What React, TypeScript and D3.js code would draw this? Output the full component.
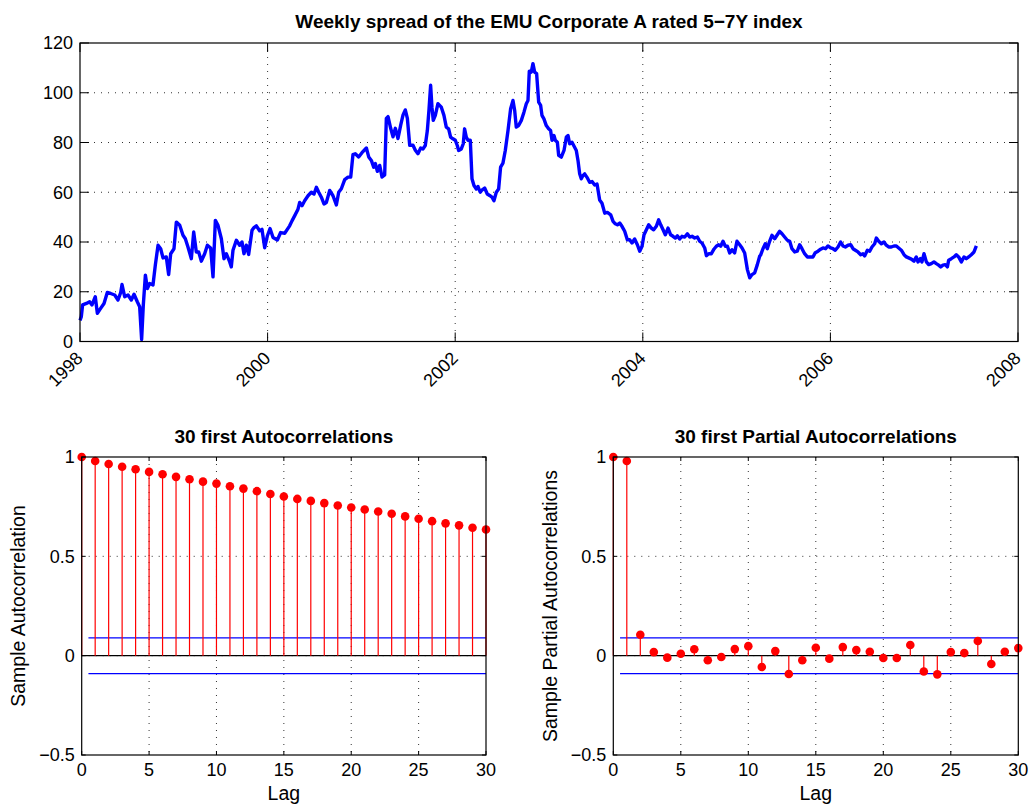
import React from "react";
import * as d3 from "d3";

// ---------- DATA ----------
const chartTitle = "Weekly spread of the EMU Corporate A rated 5\u22127Y index";
const acfTitle = "30 first Autocorrelations";
const pacfTitle = "30 first Partial Autocorrelations";

// [decimal year, spread (bp)]
const spreadSeries: [number, number][] = [
  [1998.0, 8.5], [1998.014, 10], [1998.028, 14.7], [1998.068, 15.3], [1998.103, 16], [1998.128, 14.7],
  [1998.163, 18], [1998.185, 11.3], [1998.22, 13.3], [1998.256, 15.3], [1998.291, 19.7], [1998.327, 19.3],
  [1998.37, 18.7], [1998.405, 16.7], [1998.434, 19.7], [1998.448, 22.9], [1998.476, 18], [1998.512, 18.7],
  [1998.547, 16.7], [1998.576, 19], [1998.611, 16], [1998.636, 14], [1998.657, 0.8], [1998.675, 14.7],
  [1998.697, 26.7], [1998.718, 21.3], [1998.743, 23.3], [1998.778, 22.7], [1998.803, 30.7], [1998.832, 38.7],
  [1998.86, 37.3], [1998.885, 33.6], [1998.92, 34], [1998.945, 26.9], [1998.967, 35.3], [1999.002, 37.3],
  [1999.027, 48], [1999.063, 46.7], [1999.098, 42.7], [1999.123, 41.3], [1999.151, 38], [1999.187, 33.3],
  [1999.212, 44], [1999.24, 36], [1999.265, 36], [1999.294, 32.3], [1999.329, 35.3], [1999.358, 38.7],
  [1999.393, 37.6], [1999.418, 26], [1999.443, 48.7], [1999.471, 46.7], [1999.507, 41.3], [1999.535, 33.3],
  [1999.56, 35.3], [1999.596, 32], [1999.613, 30], [1999.631, 36.7], [1999.667, 40.7], [1999.702, 38.7],
  [1999.727, 40], [1999.748, 35.3], [1999.773, 38.7], [1999.798, 35], [1999.834, 44.7], [1999.855, 45.8],
  [1999.88, 46.5], [1999.915, 44.5], [1999.94, 45.1], [1999.969, 37.7], [1999.997, 42.4], [2000.026, 45.4],
  [2000.058, 41.8], [2000.104, 40.8], [2000.139, 43.8], [2000.182, 43.5], [2000.21, 45.1], [2000.235, 46.5],
  [2000.26, 48.5], [2000.288, 50.5], [2000.324, 53.2], [2000.342, 55.9], [2000.367, 54.6], [2000.395, 56.6],
  [2000.431, 58.6], [2000.466, 60], [2000.495, 59.3], [2000.52, 62], [2000.545, 60], [2000.573, 58],
  [2000.601, 55.3], [2000.626, 55.9], [2000.662, 60.7], [2000.697, 58.6], [2000.733, 54.9], [2000.758, 60],
  [2000.786, 61.4], [2000.822, 65.1], [2000.857, 66.1], [2000.886, 66.1], [2000.91, 75.1], [2000.935, 75.5],
  [2000.971, 74.2], [2001.006, 75.9], [2001.053, 77.8], [2001.078, 74.2], [2001.106, 72.8], [2001.131, 70.1],
  [2001.149, 71.5], [2001.17, 68.4], [2001.195, 70.8], [2001.22, 66.1], [2001.248, 67], [2001.266, 89.7],
  [2001.284, 90.4], [2001.312, 85.7], [2001.337, 82.3], [2001.362, 85.7], [2001.39, 81.6], [2001.419, 87],
  [2001.444, 91.1], [2001.468, 93.1], [2001.49, 89.7], [2001.515, 78.9], [2001.55, 78.9], [2001.575, 76.9],
  [2001.603, 75.5], [2001.632, 77.8], [2001.656, 77.4], [2001.681, 78.8], [2001.703, 84.8], [2001.72, 92.9],
  [2001.738, 103], [2001.752, 94.2], [2001.766, 88.9], [2001.788, 90.9], [2001.816, 95.6], [2001.852, 94.2],
  [2001.88, 90.9], [2001.905, 86.2], [2001.93, 85.5], [2001.951, 82.2], [2001.976, 81.5], [2002.001, 80.9],
  [2002.022, 78.8], [2002.037, 76.8], [2002.065, 77.4], [2002.086, 79.5], [2002.1, 85.5], [2002.118, 82.2],
  [2002.136, 80.9], [2002.161, 80.9], [2002.179, 65.4], [2002.2, 62.7], [2002.225, 61.3], [2002.243, 62.3],
  [2002.267, 60], [2002.285, 60.9], [2002.314, 61.7], [2002.342, 59.3], [2002.367, 58.7], [2002.392, 58],
  [2002.413, 56.6], [2002.438, 60], [2002.463, 61.3], [2002.484, 70.1], [2002.509, 71.7], [2002.534, 76.8],
  [2002.563, 84.8], [2002.591, 93.6], [2002.616, 96.9], [2002.634, 92.9], [2002.651, 86.2], [2002.676, 86.8],
  [2002.705, 88.9], [2002.733, 92.2], [2002.758, 95.6], [2002.776, 96.9], [2002.79, 108.7], [2002.811, 108.3],
  [2002.829, 111.7], [2002.847, 108.3], [2002.868, 107.7], [2002.89, 96.2], [2002.911, 94.9], [2002.925, 90.9],
  [2002.946, 89.5], [2002.971, 86.8], [2002.996, 85.5], [2003.017, 84.8], [2003.032, 80.9], [2003.053, 82.8],
  [2003.067, 80.9], [2003.089, 80.1], [2003.103, 74.8], [2003.131, 74.1], [2003.16, 76.8], [2003.185, 82.2],
  [2003.203, 82.8], [2003.22, 79.5], [2003.245, 80.1], [2003.273, 78.1], [2003.291, 76.8], [2003.309, 72.8],
  [2003.327, 67.4], [2003.344, 65.4], [2003.362, 66.7], [2003.38, 67.4], [2003.405, 66], [2003.433, 64],
  [2003.459, 64.3], [2003.487, 62.9], [2003.512, 63.3], [2003.54, 56.9], [2003.565, 55.6], [2003.594, 51.6],
  [2003.622, 51.9], [2003.658, 50.9], [2003.683, 48.3], [2003.707, 47.3], [2003.729, 46.9], [2003.754, 47.6],
  [2003.778, 46.3], [2003.807, 44.3], [2003.835, 40.9], [2003.86, 40.9], [2003.885, 39.6], [2003.913, 41.2],
  [2003.942, 38.9], [2003.967, 36.3], [2003.992, 38.3], [2004.013, 42.9], [2004.038, 44.9], [2004.063, 46.9],
  [2004.091, 45.6], [2004.116, 44.9], [2004.144, 46.3], [2004.169, 48.9], [2004.191, 46.9], [2004.216, 44.9],
  [2004.24, 42.9], [2004.269, 45.6], [2004.297, 42.9], [2004.322, 42.3], [2004.347, 41.6], [2004.368, 42.5],
  [2004.393, 41.2], [2004.418, 42.3], [2004.447, 42], [2004.475, 43.3], [2004.5, 42], [2004.525, 42.3],
  [2004.553, 41.6], [2004.582, 42], [2004.606, 40.3], [2004.631, 39.6], [2004.66, 37.6], [2004.678, 34.5],
  [2004.703, 35.3], [2004.731, 35.3], [2004.76, 37.2], [2004.784, 38.3], [2004.809, 38.9], [2004.83, 38.3],
  [2004.855, 40.3], [2004.88, 38.3], [2004.902, 38.3], [2004.926, 35.6], [2004.951, 36.9], [2004.979, 35.6],
  [2005.004, 40.3], [2005.033, 38.9], [2005.058, 37.6], [2005.086, 35.6], [2005.115, 28.9], [2005.14, 25.6],
  [2005.164, 26.9], [2005.193, 27.6], [2005.221, 30.9], [2005.246, 34.3], [2005.256, 34.7], [2005.281, 37.3],
  [2005.306, 39.3], [2005.327, 37.3], [2005.352, 40.3], [2005.377, 42.7], [2005.406, 41.3], [2005.434, 42.9],
  [2005.459, 44.3], [2005.484, 43.3], [2005.512, 42], [2005.541, 40.7], [2005.566, 40.3], [2005.59, 37.3],
  [2005.619, 36], [2005.647, 36.3], [2005.672, 38.9], [2005.697, 37.3], [2005.725, 35.3], [2005.754, 34],
  [2005.789, 34], [2005.814, 34], [2005.839, 35.7], [2005.868, 36.3], [2005.896, 37.1], [2005.921, 37.6],
  [2005.949, 37.3], [2005.974, 38.4], [2006.003, 37.6], [2006.028, 37.3], [2006.052, 36.7], [2006.081, 38],
  [2006.109, 40], [2006.134, 38.4], [2006.159, 38], [2006.188, 38.7], [2006.216, 38.9], [2006.241, 37.3],
  [2006.266, 36.7], [2006.294, 36], [2006.323, 34.9], [2006.347, 35.3], [2006.365, 34.4], [2006.394, 36.7],
  [2006.419, 36.3], [2006.443, 38], [2006.472, 39.3], [2006.49, 41.6], [2006.515, 40.3], [2006.543, 39.3],
  [2006.571, 40], [2006.596, 38.7], [2006.621, 38], [2006.649, 38], [2006.678, 38.4], [2006.703, 38.4],
  [2006.728, 37.6], [2006.756, 36.7], [2006.785, 34.9], [2006.81, 34], [2006.834, 33.6], [2006.863, 33.1],
  [2006.891, 32.3], [2006.916, 34], [2006.934, 32], [2006.959, 33.3], [2006.976, 32], [2006.998, 35.3],
  [2007.023, 32], [2007.048, 30.9], [2007.076, 31.3], [2007.104, 32], [2007.129, 31.3], [2007.154, 30.7],
  [2007.176, 30], [2007.2, 30.7], [2007.225, 30.9], [2007.247, 30], [2007.261, 32.7], [2007.289, 33.3],
  [2007.318, 34], [2007.342, 34.9], [2007.367, 34], [2007.396, 32], [2007.424, 34], [2007.449, 33.3],
  [2007.474, 34], [2007.502, 34.9], [2007.531, 36], [2007.556, 38.4],
];

const yearTicks = [1998, 2000, 2002, 2004, 2006, 2008];
const spreadTicks = [0, 20, 40, 60, 80, 100, 120];

const acfValues = [
  1, 0.98, 0.965, 0.951, 0.938, 0.925, 0.913, 0.9, 0.888, 0.876, 0.866, 0.853, 0.841, 0.828, 0.814, 0.801,
  0.789, 0.779, 0.768, 0.756, 0.746, 0.736, 0.726, 0.714, 0.701, 0.689, 0.677, 0.666, 0.656, 0.644, 0.635,
];
const pacfValues = [
  1, 0.98, 0.105, 0.018, -0.01, 0.01, 0.032, -0.023, -0.007, 0.033, 0.048, -0.057, 0.023, -0.092, -0.023,
  0.04, -0.015, 0.043, 0.028, 0.02, -0.012, -0.012, 0.054, -0.08, -0.094, 0.018, 0.013, 0.074, -0.042, 0.02,
  0.038,
];
const confBound = 0.09;
const lagTicks = [0, 5, 10, 15, 20, 25, 30];
const corrTicks = [-0.5, 0, 0.5, 1];

// ---------- STYLE ----------
const FONT = "'Liberation Sans', Arial, Helvetica, sans-serif";
const GRID = { stroke: "#333", strokeWidth: 1, strokeDasharray: "1,6" };
const TICK = 9;
const TITLE_SIZE = 19;
const TICK_SIZE = 18;
const LABEL_SIZE = 19.5;

function fmtCorr(v: number) {
  if (v === 0) return "0";
  return (v < 0 ? "\u2212" : "") + String(Math.abs(v));
}

function TopChart() {
  const L = 80, R = 1018, T = 43, B = 341.5;
  const x = d3.scaleLinear().domain([1998, 2008]).range([L, R]);
  const y = d3.scaleLinear().domain([0, 120]).range([B, T]);
  const line = d3
    .line<[number, number]>()
    .x((d) => x(d[0]))
    .y((d) => y(d[1]));
  return (
    <g>
      <text x={(L + R) / 2} y={28} textAnchor="middle" fontWeight="bold" fontSize={TITLE_SIZE} fontFamily={FONT}>
        {chartTitle}
      </text>
      {yearTicks.slice(1, -1).map((t) => (
        <line key={"gx" + t} x1={x(t)} x2={x(t)} y1={T} y2={B} {...GRID} />
      ))}
      {spreadTicks.slice(1, -1).map((t) => (
        <line key={"gy" + t} x1={L} x2={R} y1={y(t)} y2={y(t)} {...GRID} />
      ))}
      <path d={line(spreadSeries) || ""} fill="none" stroke="#0000ff" strokeWidth={3.4} strokeLinejoin="round" />
      <rect x={L} y={T} width={R - L} height={B - T} fill="none" stroke="#000" strokeWidth={1.2} />
      {yearTicks.map((t) => (
        <g key={"tx" + t}>
          <line x1={x(t)} x2={x(t)} y1={B} y2={B - TICK} stroke="#000" />
          <line x1={x(t)} x2={x(t)} y1={T} y2={T + TICK} stroke="#000" />
          <text
            transform={`translate(${x(t) - 5},${B + 9}) rotate(-45)`}
            textAnchor="end"
            dy="0.7em"
            fontSize={TICK_SIZE}
            fontFamily={FONT}
          >
            {t}
          </text>
        </g>
      ))}
      {spreadTicks.map((t) => (
        <g key={"ty" + t}>
          <line x1={L} x2={L + TICK} y1={y(t)} y2={y(t)} stroke="#000" />
          <line x1={R} x2={R - TICK} y1={y(t)} y2={y(t)} stroke="#000" />
          <text x={L - 7} y={y(t)} dy="0.36em" textAnchor="end" fontSize={TICK_SIZE} fontFamily={FONT}>
            {t}
          </text>
        </g>
      ))}
    </g>
  );
}

function CorrChart(props: { L: number; R: number; values: number[]; title: string; ylabel: string; ylabelX: number }) {
  const { L, R, values, title, ylabel, ylabelX } = props;
  const T = 457, B = 755;
  const x = d3.scaleLinear().domain([0, 30]).range([L, R]);
  const y = d3.scaleLinear().domain([-0.5, 1]).range([B, T]);
  return (
    <g>
      <text x={(L + R) / 2} y={443} textAnchor="middle" fontWeight="bold" fontSize={TITLE_SIZE} fontFamily={FONT}>
        {title}
      </text>
      {lagTicks.slice(1, -1).map((t) => (
        <line key={"gx" + t} x1={x(t)} x2={x(t)} y1={T} y2={B} {...GRID} />
      ))}
      {corrTicks.slice(1, -1).map((t) => (
        <line key={"gy" + t} x1={L} x2={R} y1={y(t)} y2={y(t)} {...GRID} />
      ))}
      <line x1={x(0.5)} x2={x(30)} y1={y(confBound)} y2={y(confBound)} stroke="#0000ff" strokeWidth={1.2} />
      <line x1={x(0.5)} x2={x(30)} y1={y(-confBound)} y2={y(-confBound)} stroke="#0000ff" strokeWidth={1.2} />
      <line x1={x(0)} x2={x(30)} y1={y(0)} y2={y(0)} stroke="#000" strokeWidth={1.2} />
      {values.map((v, i) => (
        <g key={"s" + i}>
          <line x1={x(i)} x2={x(i)} y1={y(0)} y2={y(v)} stroke="#ff0000" strokeWidth={1.2} />
          <circle cx={x(i)} cy={y(v)} r={4.3} fill="#ff0000" />
        </g>
      ))}
      <rect x={L} y={T} width={R - L} height={B - T} fill="none" stroke="#000" strokeWidth={1.2} />
      {lagTicks.map((t) => (
        <g key={"tx" + t}>
          <line x1={x(t)} x2={x(t)} y1={B} y2={B - 4} stroke="#000" />
          <line x1={x(t)} x2={x(t)} y1={T} y2={T + 4} stroke="#000" />
          <text x={x(t)} y={B + 21} textAnchor="middle" fontSize={TICK_SIZE} fontFamily={FONT}>
            {t}
          </text>
        </g>
      ))}
      {corrTicks.map((t) => (
        <g key={"ty" + t}>
          <line x1={L} x2={L + 4} y1={y(t)} y2={y(t)} stroke="#000" />
          <line x1={R} x2={R - 4} y1={y(t)} y2={y(t)} stroke="#000" />
          <text x={L - 7} y={y(t)} dy="0.36em" textAnchor="end" fontSize={TICK_SIZE} fontFamily={FONT}>
            {fmtCorr(t)}
          </text>
        </g>
      ))}
      <text x={(L + R) / 2} y={800} textAnchor="middle" fontSize={LABEL_SIZE} fontFamily={FONT}>
        Lag
      </text>
      <text
        transform={`translate(${ylabelX},${(T + B) / 2}) rotate(-90)`}
        textAnchor="middle"
        fontSize={LABEL_SIZE}
        fontFamily={FONT}
      >
        {ylabel}
      </text>
    </g>
  );
}

export default function App() {
  return (
    <svg
      width={1031}
      height={807}
      style={{ position: "absolute", left: 0, top: 0, background: "#fff" }}
    >
      <rect width={1031} height={807} fill="#fff" />
      <TopChart />
      <CorrChart L={81.7} R={486} values={acfValues} title={acfTitle} ylabel="Sample Autocorrelation" ylabelX={25} />
      <CorrChart
        L={613.3}
        R={1018.3}
        values={pacfValues}
        title={pacfTitle}
        ylabel="Sample Partial Autocorrelations"
        ylabelX={557}
      />
    </svg>
  );
}
